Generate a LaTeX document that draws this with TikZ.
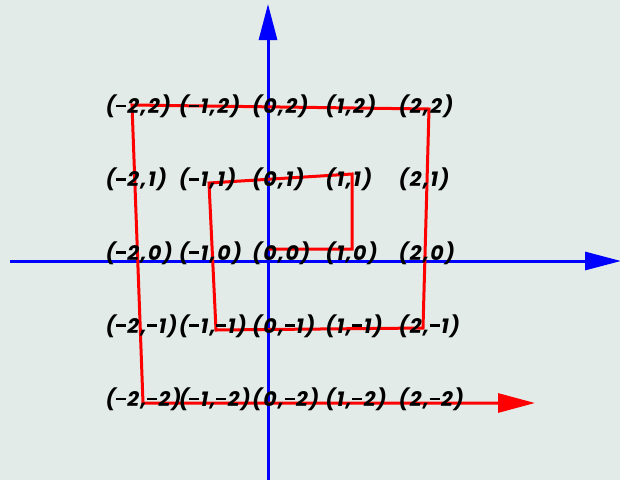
\documentclass[tikz,border=0pt]{standalone}
\usepackage{fontspec}
\setmainfont{Poppins}
\newfontfamily\lblfont[LetterSpace=7]{Poppins}
\usetikzlibrary{arrows.meta}
\definecolor{bgc}{RGB}{226,235,232}
\newcommand{\mns}{\kern0.6pt\rule[6.4pt]{10pt}{2.6pt}\kern1.4pt}
\newcommand{\sgnum}[1]{\ifnum#1<0 \mns\number\numexpr-#1\relax\else#1\fi}
\tikzset{
  axis/.style={blue, line width=3pt, -{Triangle[length=36pt,width=18pt]}},
  spiral/.style={red, line width=3pt, line join=miter, -{Triangle[length=37pt,width=19pt]}},
  lbl/.style={anchor=west, inner sep=0pt, font=\lblfont\fontsize{20.5}{20.5}\selectfont\bfseries\itshape}
}
\begin{document}
\begin{tikzpicture}[x=1pt,y=-1pt]
\fill[bgc] (0,0) rectangle (620,480);
\useasboundingbox (0,0) rectangle (620,480);
\coordinate (xs) at (10,261);
\coordinate (xe) at (621,261);
\coordinate (ys) at (268,480);
\coordinate (ye) at (268,4);
\draw[axis] (xs) -- (xe);
\draw[axis] (ys) -- (ye);
\coordinate (p0) at (269,249);
\coordinate (p1) at (352,249);
\coordinate (p2) at (352,174);
\coordinate (p3) at (209,183);
\coordinate (p4) at (216,330);
\coordinate (p5) at (423,328);
\coordinate (p6) at (429,109);
\coordinate (p7) at (132,105);
\coordinate (p8) at (143,403);
\coordinate (p9) at (535,403);
\draw[spiral] (p0) -- (p1) -- (p2) -- (p3) -- (p4) -- (p5) -- (p6) -- (p7) -- (p8) -- (p9);
\foreach \i in {-2,...,2}{
  \foreach \j in {-2,...,2}{
    \node[lbl] (l\i\j) at ({252+73.25*\i},{253-73.25*\j}) {(\sgnum{\i},\sgnum{\j})};
  }
}
\end{tikzpicture}
\end{document}
